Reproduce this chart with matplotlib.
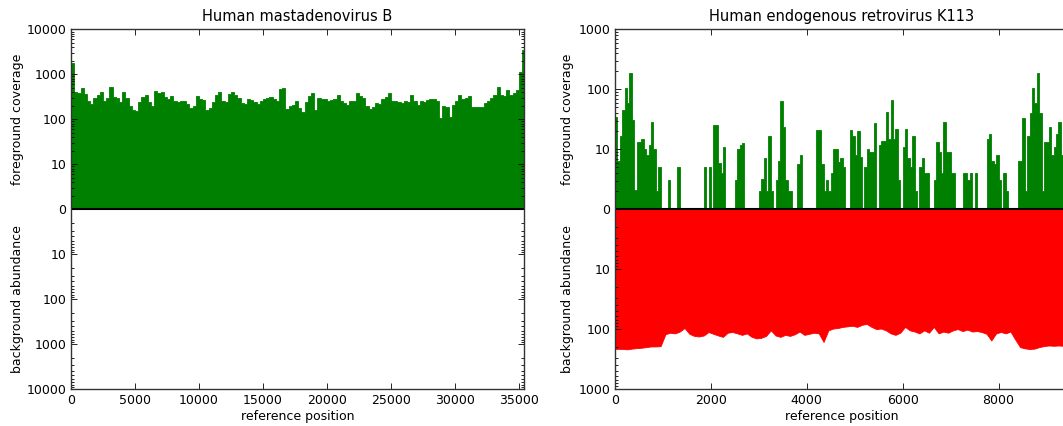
import numpy as np
import matplotlib
matplotlib.use("Agg")
import matplotlib.pyplot as plt

# --- Human mastadenovirus B: foreground coverage, 250 bp bins ---
adeno_bin = 250
adeno_length = 35400
adeno_fg = [
    1800, 400, 380, 500, 360, 250, 220, 300, 350, 400,
    260, 300, 520, 320, 300, 240, 400, 300, 200, 160,
    150, 240, 320, 350, 240, 200, 420, 380, 400, 320,
    280, 330, 260, 240, 250, 260, 220, 180, 200, 330,
    290, 270, 160, 180, 240, 350, 400, 260, 240, 360,
    400, 340, 300, 230, 220, 280, 270, 240, 220, 260,
    290, 300, 320, 280, 250, 480, 500, 170, 200, 210,
    250, 180, 147, 240, 330, 378, 160, 300, 290, 280,
    250, 270, 280, 340, 250, 230, 210, 250, 260, 380,
    330, 300, 200, 170, 190, 230, 220, 290, 320, 380,
    260, 250, 240, 235, 250, 240, 340, 260, 210, 250,
    240, 270, 290, 290, 250, 109, 200, 190, 112, 210,
    260, 340, 290, 300, 330, 190, 190, 185, 190, 230,
    250, 300, 340, 530, 340, 330, 450, 340, 380, 450,
    1150, 3500,
]
adeno_bg = []  # no background reads mapped

# --- Human endogenous retrovirus K113 ---
herv_length = 9472
herv_fg_bin = 50
herv_fg = [
    34, 8, 17, 45, 104, 60, 190, 31, 3.2, 13,
    13, 15, 10, 9, 12, 29, 10, 3, 7, 0,
    0, 0, 4.8, 0, 0, 0, 7, 0, 0, 0,
    0, 0, 0, 0, 0, 0, 0, 7, 0, 7,
    0, 25, 25, 7.7, 6, 11, 0, 0, 0, 0,
    4.8, 10, 12, 12.6, 0, 0, 0, 0, 0, 0,
    3.1, 5, 8.5, 3.1, 17, 3, 0, 4.8, 8, 65,
    24, 4.8, 3, 3, 0, 0, 7.5, 9, 0, 0,
    0, 0, 0, 0, 21, 21, 7.5, 3, 4.8, 3,
    6, 10, 10, 7.9, 8.5, 7, 0, 0, 21, 17,
    9, 20, 8.8, 0, 7, 10, 9.5, 9.5, 27, 0,
    11.7, 14, 14, 42, 15, 66, 15, 22, 4.8, 0,
    11, 22, 8.5, 7, 17, 3.1, 0, 7, 8.5, 6,
    6, 0, 0, 4.8, 13, 9.5, 6, 29, 9.5, 9.5,
    6, 6, 0, 0, 0, 6, 6, 4.8, 6, 0,
    6, 0, 0, 0, 0, 15, 18, 8, 7.5, 9,
    4.8, 0, 6, 3, 0, 0, 0, 0, 8, 8,
    33, 3, 17, 40, 104, 60, 190, 40, 3, 13,
    13, 24, 9, 11, 18, 29, 9, 12, 6, 3,
]
herv_bg_bin = 100
herv_bg = [
    214, 214, 218, 212, 208, 205, 200, 195, 195, 193,
    122, 115, 118, 110, 96, 120, 130, 133, 128, 112,
    120, 128, 135, 115, 112, 118, 125, 118, 135, 143,
    140, 130, 105, 128, 135, 125, 130, 122, 110, 125,
    120, 115, 118, 164, 105, 98, 96, 92, 90, 88,
    92, 85, 82, 92, 100, 98, 105, 118, 125, 115,
    92, 105, 110, 118, 105, 115, 92, 118, 110, 115,
    105, 100, 108, 102, 110, 108, 112, 120, 155, 118,
    112, 118, 110, 150, 200, 210, 215, 212, 200, 192,
    188, 190, 188, 190, 188,
]

titles = ["Human mastadenovirus B", "Human endogenous retrovirus K113"]

plt.rcParams["font.family"] = "DejaVu Sans"
fs = 9

fig = plt.figure(figsize=(10.63, 4.26), dpi=100)
ax1 = fig.add_axes([0.0668, 0.0869, 0.4262, 0.8439])
ax2 = fig.add_axes([0.5786, 0.0869, 0.4271, 0.8439])


def step_fill(ax, values, width, sign, color):
    # flat-topped bins
    if len(values) == 0:
        return
    vals = np.asarray(values, dtype=float)
    edges = np.arange(len(vals) + 1) * width
    y = sign * np.append(vals, vals[-1])
    ax.fill_between(edges, 0, y, step="post", color=color, lw=0.6, edgecolor=color)


def line_fill(ax, values, width, sign, color):
    # values sit at bin centres, joined by straight segments
    if len(values) == 0:
        return
    vals = np.asarray(values, dtype=float)
    n = len(vals)
    x = np.concatenate([[0], np.arange(n) * width + width / 2, [n * width]])
    y = sign * np.concatenate([[vals[0]], vals, [vals[-1]]])
    ax.fill_between(x, 0, y, color=color, lw=0.6, edgecolor=color)


def style_axis(ax, ymax, length, xticks, title, label_x):
    ax.set_yscale("symlog", linthresh=10, linscale=0.9)
    decades = int(round(np.log10(ymax)))
    major = [0] + [10 ** k for k in range(1, decades + 1)]
    major = sorted(set([-m for m in major] + major))
    ax.set_yticks(major)
    ax.set_yticklabels([str(abs(int(m))) for m in major])
    minor = [10 * np.log10(m) for m in range(2, 10)]
    for k in range(1, decades):
        minor += [m * 10 ** k for m in range(2, 10)]
    minor = [-m for m in minor] + minor
    ax.set_yticks(minor, minor=True)
    ax.set_ylim(-ymax, ymax)
    ax.set_xlim(0, length)
    ax.set_xticks(xticks)
    ax.tick_params(which="both", direction="in", top=True, right=True,
                   labelsize=fs, width=0.6)
    ax.tick_params(which="major", length=4)
    ax.tick_params(which="minor", length=2)
    ax.axhline(0, color="k", lw=1.5)
    for s in ax.spines.values():
        s.set_color("#333333")
        s.set_linewidth(1.0)
    ax.set_title(title, fontsize=10.5, pad=6)
    ax.set_xlabel("reference position", fontsize=fs, labelpad=2)
    ax.text(label_x, 0.75, "foreground coverage", transform=ax.transAxes,
            rotation=90, ha="center", va="center", fontsize=fs)
    ax.text(label_x, 0.25, "background abundance", transform=ax.transAxes,
            rotation=90, ha="center", va="center", fontsize=fs)


step_fill(ax1, adeno_fg, adeno_bin, 1, "g")
step_fill(ax1, adeno_bg, adeno_bin, -1, "r")
style_axis(ax1, 10000, adeno_length, range(0, 35001, 5000), titles[0], -0.119)

step_fill(ax2, herv_fg, herv_fg_bin, 1, "g")
line_fill(ax2, herv_bg, herv_bg_bin, -1, "r")
style_axis(ax2, 1000, herv_length, range(0, 8001, 2000), titles[1], -0.104)

fig.savefig("out.png", dpi=100)
plt.close(fig)
